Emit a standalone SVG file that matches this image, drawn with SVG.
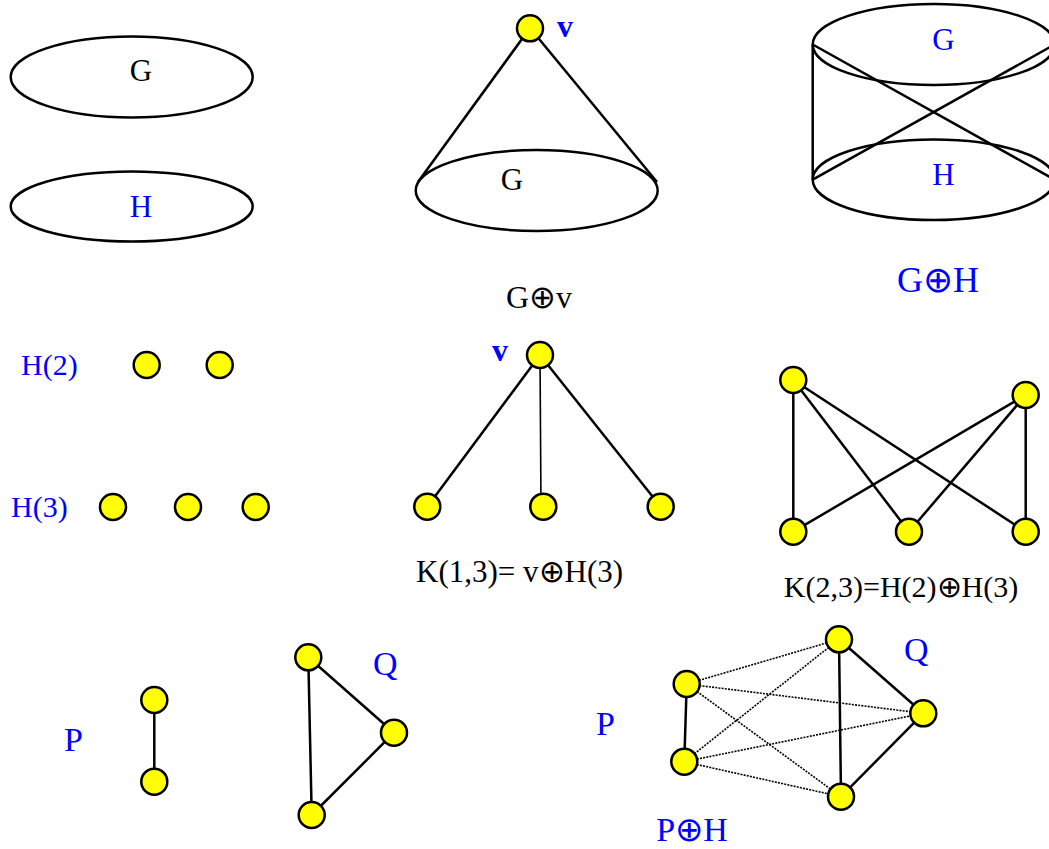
<svg xmlns="http://www.w3.org/2000/svg" width="1049" height="849" viewBox="0 0 1049 849">
<style>
.bg{fill:#ffffff}
.ell{fill:none;stroke:#000;stroke-width:2.5}
.e{stroke:#000;stroke-width:2.5;fill:none}
.thin{stroke:#000;stroke-width:1.6;fill:none}
.dot{stroke:#000;stroke-width:1.6;stroke-dasharray:2,1.2;fill:none}
.n{fill:#ffff00;stroke:#000;stroke-width:2.5}
text{font-family:"Liberation Serif","Times New Roman",serif}
.b{fill:#0000ff}
.k{fill:#000}
</style>
<rect class="bg" x="0" y="0" width="1049" height="849"/>

<g id="connectors">
  <!-- cone -->
  <line class="e" x1="530" y1="28" x2="418" y2="182"/>
  <line class="e" x1="530" y1="28" x2="657" y2="182"/>
  <!-- cylinder -->
  <line class="e" x1="812.7" y1="44.5" x2="812.7" y2="179.7"/>
  <line class="e" x1="812.7" y1="44.5" x2="1054.7" y2="179.7"/>
  <line class="e" x1="812.7" y1="179.7" x2="1054.7" y2="44.5"/>
  <!-- K(1,3) -->
  <line class="e" x1="540" y1="355" x2="427.3" y2="506.7"/>
  <line class="thin" x1="540" y1="355" x2="541" y2="506.7"/>
  <line class="e" x1="540" y1="355" x2="660.7" y2="506.7"/>
  <!-- K(2,3) -->
  <line class="e" x1="793.3" y1="380" x2="793.3" y2="531.7"/>
  <line class="e" x1="793.3" y1="380" x2="909" y2="531.7"/>
  <line class="e" x1="793.3" y1="380" x2="1025.7" y2="531.7"/>
  <line class="e" x1="1025.7" y1="395" x2="793.3" y2="531.7"/>
  <line class="e" x1="1025.7" y1="395" x2="909" y2="531.7"/>
  <line class="e" x1="1025.7" y1="395" x2="1025.7" y2="531.7"/>
  <!-- P -->
  <line class="e" x1="154.3" y1="700" x2="154.3" y2="781.7"/>
  <!-- Q -->
  <line class="e" x1="308.3" y1="657.3" x2="311.7" y2="815"/>
  <line class="e" x1="308.3" y1="657.3" x2="394" y2="732.7"/>
  <line class="e" x1="394" y1="732.7" x2="311.7" y2="815"/>
  <!-- P+H -->
  <line class="e" x1="686.7" y1="684" x2="684.3" y2="761.7"/>
  <line class="e" x1="839" y1="639.3" x2="841" y2="796.7"/>
  <line class="e" x1="839" y1="639.3" x2="923.3" y2="713.3"/>
  <line class="e" x1="923.3" y1="713.3" x2="841" y2="796.7"/>
  <line class="dot" x1="686.7" y1="684" x2="839" y2="639.3"/>
  <line class="dot" x1="686.7" y1="684" x2="923.3" y2="713.3"/>
  <line class="dot" x1="686.7" y1="684" x2="841" y2="796.7"/>
  <line class="dot" x1="684.3" y1="761.7" x2="839" y2="639.3"/>
  <line class="dot" x1="684.3" y1="761.7" x2="923.3" y2="713.3"/>
  <line class="dot" x1="684.3" y1="761.7" x2="841" y2="796.7"/>
</g>

<g id="graphG">
  <ellipse class="ell" cx="131.7" cy="77" rx="121" ry="40.5"/>
  <text class="k" x="141" y="81" font-size="31" text-anchor="middle">G</text>
</g>
<g id="graphH">
  <ellipse class="ell" cx="131.7" cy="206.5" rx="121" ry="35"/>
  <text class="b" x="141" y="217" font-size="31" text-anchor="middle">H</text>
</g>

<g id="cone">
  <ellipse class="ell" cx="536.7" cy="190.5" rx="121" ry="40.5"/>
  <text class="k" x="512" y="190" font-size="31" text-anchor="middle">G</text>
  <circle class="n" cx="530" cy="28.3" r="13"/>
  <text class="b" x="557" y="37" font-size="32" font-weight="bold">v</text>
  <text class="k" x="539" y="308" font-size="32" text-anchor="middle">G⊕v</text>
</g>

<g id="cylinder">
  <ellipse class="ell" cx="933.7" cy="44.5" rx="121" ry="40.5"/>
  <ellipse class="ell" cx="933.7" cy="179.7" rx="121" ry="40.3"/>
  <text class="b" x="943.5" y="50" font-size="31" text-anchor="middle">G</text>
  <text class="b" x="943.5" y="185" font-size="31" text-anchor="middle">H</text>
  <text class="b" x="938" y="291.7" font-size="36" text-anchor="middle">G⊕H</text>
</g>

<g id="H2">
  <text class="b" x="21" y="375" font-size="30">H(2)</text>
  <circle class="n" cx="146.7" cy="365" r="13"/>
  <circle class="n" cx="219.7" cy="365" r="13"/>
</g>
<g id="H3">
  <text class="b" x="11" y="516.7" font-size="30">H(3)</text>
  <circle class="n" cx="113" cy="507" r="13"/>
  <circle class="n" cx="188" cy="507" r="13"/>
  <circle class="n" cx="255.7" cy="507" r="13"/>
</g>

<g id="K13">
  <text class="b" x="492" y="361" font-size="32" font-weight="bold">v</text>
  <circle class="n" cx="540" cy="355" r="13"/>
  <circle class="n" cx="427.3" cy="506.7" r="13"/>
  <circle class="n" cx="543.3" cy="506.7" r="13"/>
  <circle class="n" cx="660.7" cy="506.7" r="13"/>
  <text class="k" x="416" y="581.7" font-size="31">K(1,3)= v⊕H(3)</text>
</g>

<g id="K23">
  <circle class="n" cx="793.3" cy="380" r="13"/>
  <circle class="n" cx="1025.7" cy="395" r="13"/>
  <circle class="n" cx="793.3" cy="531.7" r="13"/>
  <circle class="n" cx="909" cy="531.7" r="13"/>
  <circle class="n" cx="1025.7" cy="531.7" r="13"/>
  <text class="k" x="901" y="596.7" font-size="30" text-anchor="middle">K(2,3)=H(2)⊕H(3)</text>
</g>

<g id="P">
  <text class="b" x="64" y="750.7" font-size="34">P</text>
  <circle class="n" cx="154.3" cy="700" r="13"/>
  <circle class="n" cx="154.3" cy="781.7" r="13"/>
</g>

<g id="Q">
  <text class="b" x="373" y="675" font-size="34">Q</text>
  <circle class="n" cx="308.3" cy="657.3" r="13"/>
  <circle class="n" cx="394" cy="732.7" r="13"/>
  <circle class="n" cx="311.7" cy="815" r="13"/>
</g>

<g id="PH">
  <text class="b" x="596" y="735" font-size="34">P</text>
  <text class="b" x="904" y="661" font-size="34">Q</text>
  <circle class="n" cx="686.7" cy="684" r="13"/>
  <circle class="n" cx="684.3" cy="761.7" r="13"/>
  <circle class="n" cx="839" cy="639.3" r="13"/>
  <circle class="n" cx="923.3" cy="713.3" r="13"/>
  <circle class="n" cx="841" cy="796.7" r="13"/>
  <text class="b" x="692" y="841" font-size="34" text-anchor="middle">P⊕H</text>
</g>
</svg>
